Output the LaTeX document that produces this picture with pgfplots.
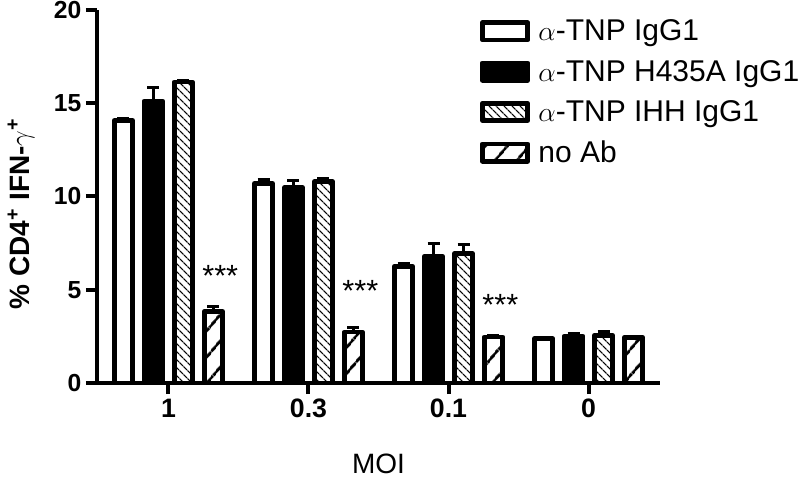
\documentclass[border=0pt]{standalone}
\usepackage{fontspec}
\setmainfont{Liberation Sans}
\usepackage{pgfplots}
\usepackage{pgfplotstable}
\pgfplotsset{compat=1.18}
\usetikzlibrary{patterns.meta}

\pgfplotstableread{
x y e
0 14.08 0.08
1 10.70 0.20
2 6.26 0.15
3 2.38 0.08
}\tnp
\pgfplotstableread{
x y e
0 15.12 0.70
1 10.47 0.40
2 6.80 0.70
3 2.52 0.15
}\hfa
\pgfplotstableread{
x y e
0 16.14 0.06
1 10.80 0.18
2 6.93 0.48
3 2.56 0.22
}\ihh
\pgfplotstableread{
x y e
0 3.84 0.26
1 2.73 0.22
2 2.47 0.06
3 2.45 0.06
}\noab

\begin{document}
\begin{tikzpicture}
\useasboundingbox (-72.75pt,-71.25pt) rectangle (527.25pt,287.25pt);
\begin{axis}[
  at={(0,0)}, anchor=south west,
  scale only axis, width=422.25pt, height=279.75pt,
  xmin=-0.51, xmax=3.51, ymin=0, ymax=20,
  axis x line=bottom, axis y line=left,
  axis line style={line width=3pt, -},
  xtick={0,1,2,3}, xticklabels={1,0.3,0.1,0},
  ytick={0,5,10,15,20},
  tick style={line width=3pt, black},
  tick align=outside, major tick length=8.25pt,
  /pgf/number format/assume math mode=true,
  x tick label style={font=\fontsize{20}{20}\selectfont\bfseries},
  y tick label style={font=\fontsize{18.5}{18.5}\selectfont\bfseries},
  every axis y label/.style={at={(axis description cs:0,0.5)}, xshift=-57pt, yshift=-13pt, rotate=90, anchor=center,
     font=\fontsize{21}{21}\selectfont\bfseries},
  every axis x label/.style={at={(axis description cs:0.5,0)}, anchor=center, yshift=-61pt,
     font=\fontsize{21}{21}\selectfont},
  xlabel={MOI},
  ylabel={\% CD4\textsuperscript{+} IFN-$\gamma$\textsuperscript{+}},
  legend style={at={(0.68,0.978)}, anchor=north west, draw=none, fill=none,
     font=\fontsize{22.5}{22.5}\selectfont, row sep=11pt, inner sep=0pt,
     nodes={inner sep=1pt}},
  legend cell align=left,
  legend image code/.code={\draw[#1, line width=3.5pt] (0pt,-6.5pt) rectangle (34pt,6.5pt);
     \path[draw=none, fill=none, pattern=none] (34pt,0) -- (41pt,0);},
  error bars/y dir=plus, error bars/y explicit,
  error bars/error bar style={line width=2.25pt, black},
  error bars/error mark options={rotate=90, mark size=4.5pt, line width=2.25pt, black},
  every axis plot/.append style={ybar, bar width=0.131, bar shift=0pt, draw=black, line width=3.5pt, line join=round},
]
\addplot[fill=white]
  table[x expr=\thisrow{x}-0.321, y=y, y error=e]{\tnp};
\addlegendentry{$\alpha$-TNP IgG1}
\addplot[fill=black]
  table[x expr=\thisrow{x}-0.107, y=y, y error=e]{\hfa};
\addlegendentry{$\alpha$-TNP H435A IgG1}
\addplot[pattern={Lines[angle=-45, distance=4pt, line width=1pt]}]
  table[x expr=\thisrow{x}+0.107, y=y, y error=e]{\ihh};
\addlegendentry{$\alpha$-TNP IHH IgG1}
\addplot[pattern={Lines[angle=50, distance=13pt, line width=2.2pt]}]
  table[x expr=\thisrow{x}+0.321, y=y, y error=e]{\noab};
\addlegendentry{no Ab}
\node[font=\fontsize{23}{23}\selectfont] at (axis cs:0.37,5.72) {***};
\node[font=\fontsize{23}{23}\selectfont] at (axis cs:1.37,4.92) {***};
\node[font=\fontsize{23}{23}\selectfont] at (axis cs:2.37,4.17) {***};
\end{axis}
\end{tikzpicture}
\end{document}
